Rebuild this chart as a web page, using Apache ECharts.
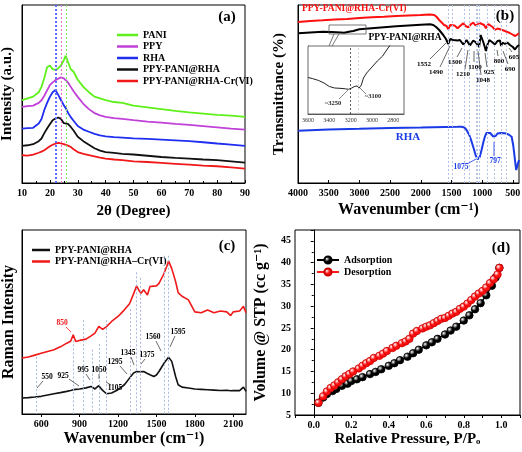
<!DOCTYPE html>
<html><head><meta charset="utf-8">
<script src="https://cdn.jsdelivr.net/npm/echarts@6/dist/echarts.min.js"></script>
<style>html,body{margin:0;padding:0;background:#fff}#c{width:522px;height:452px}</style>
</head><body><div id="c"></div>
<script>
// ---------- (a) XRD ----------
const xrdTheta = [10,12,14,16,17,18,19,20,21,22,23,24,25,25.7,26.5,27.5,28.5,30,32,34,36,38,40,43,46,50,55,60,65,70,75,80,85,90];
const xrdPANI  = [46.5,47.5,48.5,51,54,59,65,66,64,63.5,64.5,66,69,71.5,68,64,62.5,58,54,51,48.5,47.5,46.5,45.5,45,43.5,42.5,41.5,40.5,39.7,39,38.3,37.8,37.2];
const xrdPPY   = [42.8,43.2,43.5,45,46.5,49,52,55,56.5,57.8,58.6,59.3,58.8,58,56.5,54,51.5,48.4,44.5,41.5,39.3,38,37.2,36.5,36,35.3,34.5,33.9,33.2,32.6,32,31.3,30.6,30];
const xrdRHA   = [30.6,30.8,31,33.4,36,41,45,48.4,51,52.2,49.5,46.5,43.7,42,39.5,37,35,32,30,28.8,27.6,26.8,26.2,25.8,25.5,25.1,24.8,24.4,24,23.5,22.9,22.2,21.6,20.8];
const xrdComp  = [20.8,21.2,21.8,23.5,25,28,30.6,33,35.3,36.2,36.8,36,33.6,33.8,33.2,31.5,29.5,26,23.5,21.5,19.5,18.2,17.4,16.9,16.4,16,15.3,14.6,14.1,13.7,13.2,12.8,12.1,11.4];
const xrdCr    = [15.6,15.4,16,17,17.6,18.4,19.5,20.6,21.5,22.1,22.5,22.3,21.8,22,21,20.2,19,17.4,16.4,15.6,15,14.3,13.7,13.2,12.8,12.2,11.8,11.3,10.8,10.3,9.8,9.4,8.8,8.1];
const xrdNames = ['PANI','PPY','RHA','PPY-PANI@RHA','PPY-PANI@RHA-Cr(VI)'];
const xrdRefLines = [21.8,22.3,24.2,25.8];
const xrdXTicks = [10,90,10];

// ---------- (b) FTIR ----------
const ftCrX = [4000,3800,3600,3400,3200,3000,2800,2600,2400,2200,2000,1850,1780,1740,1700,1660,1620,1580,1552,1520,1490,1450,1400,1360,1308,1270,1226,1180,1145,1110,1080,1040,1009,970,938,900,873,830,792,750,710,650,601,550,493,460,428,400];
const ftCrY = [161,162,162.7,163.5,164,165,165.7,166.3,167,167.5,168,168.5,168,166,163,160.5,158,157,153.7,158,156.5,157.5,154.7,157,159.7,157,155.7,159,160.3,157.5,155.7,160,161.3,158,154.7,159,160.3,156,153,154.5,153.7,152.5,151.3,150,148,147,146.3,149.7];
const ftPPX = [4000,3800,3600,3450,3300,3250,3150,3100,3000,2800,2600,2400,2200,2000,1850,1796,1750,1700,1634,1590,1552,1520,1497,1470,1443,1400,1362,1308,1254,1199,1145,1110,1080,1050,1025,982,938,910,884,840,792,750,710,690,670,629,590,547,500,466,430,400];
const ftPPY = [149.7,150.5,151.3,151,150.5,150.3,151.5,152,153.7,154.7,155.7,156.7,157.5,158.3,158.7,158,156,153,148,144,139,144,144.7,143,141,142.5,143,138.5,143,137.5,142.5,141,139.5,136,148,141,132,139,143,141,138.5,142,142.5,137,140.5,139,140.5,138,136,133.5,136.5,138];
const ftRhaX = [4000,3500,3000,2500,2000,1600,1400,1334,1290,1254,1210,1172,1140,1107,1075,1040,1010,980,956,930,901,870,846,820,803,780,750,700,629,570,520,495,478,460,445,430,415,400];
const ftRhaY = [52.3,53.5,54.2,55,55.5,56,56.2,56.3,55.5,53,48,41.3,35,28,23.7,26,33,41,46.3,50,50.3,50,49,46.5,44.7,47,49.5,50,49.7,48.5,46.3,38,29.7,20,13,14,20,23];
const ftPeakLines = [1552,1490,1300,1210,1100,1075,1048,925,800,797,690,605];
const ftXLabels = [500,1000,1500,2000,2500,3000,3500,4000];
// inset
const inX = [3600,3560,3500,3450,3400,3350,3300,3250,3220,3190,3160,3140,3120,3100,3080,3050,3000,2950,2900,2850,2820];
const inY = [36.5,35.5,33.5,31,27.5,26,25.7,25.2,24.7,26,27.7,28,26,29,36,41,47,53,58,66,70];
const inXLabels = [2800,3000,3200,3400,3600];

// ---------- (c) Raman ----------
const ramX = [450,500,550,600,650,700,750,800,830,850,870,900,950,990,1020,1050,1080,1110,1150,1200,1250,1290,1320,1345,1365,1380,1400,1415,1430,1450,1480,1500,1520,1550,1560,1580,1595,1620,1650,1670,1700,1750,1800,1850,1900,1950,2000,2050,2080,2100,2150,2180,2200];
const ramCr = [30.4,31,32,33,34,34.9,36.5,38.5,39.5,43,39.4,40,40.7,42.5,44,47.6,46,47.5,50.3,53,56.6,59.9,65,69.6,67,65.6,67.5,68.4,64.7,69.3,69.5,69.6,71,75,76.5,80,83.2,79,72,66,64,62,55.5,55,56.5,55,56,55.5,53.5,55.5,56,58.5,55];
const ramPP = [8.7,8.9,9.2,9.6,10.3,11,11.6,12.3,12.8,13.2,13.4,13.6,14.2,15,13.6,15.4,12.8,11,11.4,13.2,15.9,19.5,22.2,23.1,23,23.3,23.1,22.8,22,21.3,20.4,21.2,23.1,26.5,27.7,29.5,30.9,28.6,20.4,15.9,14.6,14.1,13.6,13.4,13.2,13,12.8,12.9,12.6,12.8,12.7,14.6,12.3];
const ramNames = ['PPY-PANI@RHA ','PPY-PANI@RHA\u2013Cr(VI)'];
const ramPeakLines = [560,850,925,995,1050,1105,1295,1345,1375,1560,1595];
const ramPeakTops  = [31,40,51,35,38,51,57,77,74,86,86];
const ramXLabels = [600,900,1200,1500,1800,2100];

// ---------- (d) BET ----------
const adsP = [0.025,0.05,0.07,0.1,0.12,0.15,0.18,0.2,0.23,0.26,0.3,0.33,0.36,0.4,0.43,0.46,0.5,0.53,0.56,0.6,0.63,0.66,0.7,0.73,0.76,0.8,0.83,0.86,0.89,0.92,0.95,0.97,0.99];
const adsV = [7.8,9.0,9.8,10.5,11.0,11.7,12.2,12.8,13.2,13.7,14.4,14.9,15.5,16.3,16.9,17.6,18.4,19.2,20.0,21.0,21.7,22.5,23.5,24.4,25.3,26.7,27.9,29.3,30.7,32.5,34.7,36.6,38.8];
const desP = [0.025,0.05,0.07,0.09,0.11,0.13,0.15,0.17,0.19,0.21,0.24,0.26,0.28,0.3,0.32,0.35,0.37,0.39,0.42,0.44,0.47,0.49,0.51,0.53,0.55,0.58,0.6,0.62,0.64,0.66,0.68,0.7,0.72,0.74,0.76,0.78,0.8,0.82,0.84,0.86,0.88,0.9,0.92,0.94,0.96,0.98,0.99];
const desV = [7.8,9.3,10.4,11.2,11.8,12.5,13.2,13.9,14.4,15.0,15.7,16.3,16.9,17.4,18.1,18.6,19.1,19.7,20.4,20.9,21.5,21.9,22.5,23.7,24.3,24.9,25.3,25.6,26.1,26.6,27.1,27.3,27.8,28.3,28.7,29.4,29.9,30.6,31.4,32.2,32.9,33.5,34.3,35.3,36.2,37.3,38.8];
const betXLabels = [0,0.2,0.4,0.6,0.8,1.0];
const betXTicks = [-0.1,0,0.1,0.2,0.3,0.4,0.5,0.6,0.7,0.8,0.9,1.0,1.1];

// ================= build =================
const F = '"Liberation Serif","DejaVu Serif",serif';
const pairs = (xs, ys) => xs.map((x, i) => [x, ys[i]]);
const plain = v => String(v);
const lab = {fontFamily: F, fontWeight: 'bold', fontSize: 10, color: '#000', margin: 5, formatter: plain};
const ttl = {fontFamily: F, fontWeight: 'bold', fontSize: 15, color: '#000'};
const axLine = {show: true, lineStyle: {color: '#000', width: 1}};
const gridBase = {show: true, borderColor: '#000', borderWidth: 1, containLabel: false, outerBoundsMode: 'none'};

const chart = echarts.init(document.getElementById('c'));

const xrdColors = ['#5ef01a', '#c040d8', '#1f2ef0', '#111111', '#f01818'];
const xrdRefColors = ['#5f6cff', '#5f6cff', '#e070d0', '#80e060'];

const series = [];
[xrdPANI, xrdPPY, xrdRHA, xrdComp, xrdCr].forEach((arr, i) => {
  const s = {name: xrdNames[i], type: 'line', xAxisIndex: 0, yAxisIndex: 0, symbol: 'none',
    data: pairs(xrdTheta, arr), lineStyle: {color: xrdColors[i], width: 1.8}, itemStyle: {color: xrdColors[i]}, z: 3};
  if (i === 0) s.markLine = {silent: true, symbol: 'none', label: {show: false},
    lineStyle: {type: [2, 2], width: 1},
    data: xrdRefLines.map((v, k) => ({xAxis: v, lineStyle: {color: xrdRefColors[k], type: [2, 2], width: 1}}))};
  series.push(s);
});
series.push({name: 'ftir-cr', type: 'line', xAxisIndex: 1, yAxisIndex: 1, symbol: 'none',
  data: pairs(ftCrX, ftCrY), lineStyle: {color: '#ff1010', width: 2}, z: 3,
  markLine: {silent: true, symbol: 'none', label: {show: false},
    lineStyle: {color: '#b4c2e4', type: [2, 2], width: 1},
    data: ftPeakLines.map(v => ({xAxis: v}))}});
series.push({name: 'ftir-pp', type: 'line', xAxisIndex: 1, yAxisIndex: 1, symbol: 'none',
  data: pairs(ftPPX, ftPPY), lineStyle: {color: '#000', width: 2}, z: 3});
series.push({name: 'ftir-rha', type: 'line', xAxisIndex: 1, yAxisIndex: 1, symbol: 'none',
  data: pairs(ftRhaX, ftRhaY), lineStyle: {color: '#1a3ae6', width: 2}, z: 3});
series.push({name: 'inset', type: 'line', xAxisIndex: 2, yAxisIndex: 2, symbol: 'none', clip: true,
  data: pairs(inX, inY), lineStyle: {color: '#222', width: 1}, z: 5,
  markLine: {silent: true, symbol: 'none', label: {show: false},
    data: [{xAxis: 3200, lineStyle: {color: '#333', type: [2, 2], width: 0.8}},
           {xAxis: 3130, lineStyle: {color: '#ccc', type: [2, 2], width: 0.8}}]}});
series.push({name: ramNames[0], type: 'line', xAxisIndex: 3, yAxisIndex: 3, symbol: 'none',
  data: pairs(ramX, ramPP), lineStyle: {color: '#111', width: 1.6}, itemStyle: {color: '#111'}, z: 3,
  markLine: {silent: true, symbol: 'none', label: {show: false},
    lineStyle: {color: '#a9b8dc', type: [2, 2], width: 1},
    data: ramPeakLines.map((v, k) => [{coord: [v, ramPeakTops[k]]}, {coord: [v, 0]}])}});
series.push({name: ramNames[1], type: 'line', xAxisIndex: 3, yAxisIndex: 3, symbol: 'none',
  data: pairs(ramX, ramCr), lineStyle: {color: '#f01818', width: 1.6}, itemStyle: {color: '#f01818'}, z: 3});
const ball = (c) => ({type: 'radial', x: 0.35, y: 0.35, r: 0.75,
  colorStops: [{offset: 0, color: '#ffffff'}, {offset: 0.45, color: c}, {offset: 1, color: c}]});
series.push({name: 'Adsorption', type: 'line', xAxisIndex: 4, yAxisIndex: 4, symbol: 'circle', symbolSize: 7.5,
  data: pairs(adsP, adsV), lineStyle: {color: '#000', width: 1.5},
  itemStyle: {color: ball('#000'), borderColor: '#000', borderWidth: 0.8}, z: 3});
series.push({name: 'Desorption', type: 'line', xAxisIndex: 4, yAxisIndex: 4, symbol: 'circle', symbolSize: 7.5,
  data: pairs(desP, desV), lineStyle: {color: '#ff1a1a', width: 1.5},
  itemStyle: {color: ball('#ff1010'), borderColor: '#c00', borderWidth: 0.8}, z: 4});

const noAx = {axisLabel: {show: false}, axisTick: {show: false}, splitLine: {show: false}, axisLine: axLine};
const legText = {fontFamily: F, fontWeight: 'bold', fontSize: 10, color: '#000'};

const option = {
  animation: false,
  backgroundColor: '#fff',
  grid: [
    Object.assign({left: 22, top: 5, width: 223, height: 178}, gridBase),
    Object.assign({left: 298, top: 5, width: 221, height: 178}, gridBase),
    Object.assign({}, gridBase, {left: 308, top: 46, width: 96, height: 68, backgroundColor: '#fff', z: 4, borderColor: '#444', borderWidth: 0.8}),
    Object.assign({left: 22, top: 230, width: 224, height: 184}, gridBase),
    Object.assign({left: 295, top: 230, width: 225, height: 185}, gridBase)
  ],
  xAxis: [
    {gridIndex: 0, type: 'value', min: xrdXTicks[0], max: xrdXTicks[1], interval: xrdXTicks[2],
      axisLine: axLine, axisTick: {inside: true, length: 3, lineStyle: {color: '#000'}},
      minorTick: {show: true, splitNumber: 2, length: 2, lineStyle: {color: '#000'}},
      splitLine: {show: false}, axisLabel: lab,
      name: '2\u03b8 (Degree)', nameLocation: 'middle', nameGap: 21, nameTextStyle: ttl},
    {gridIndex: 1, type: 'value', min: 400, max: 4000, inverse: true,
      axisLine: axLine, axisTick: {inside: true, length: 3, customValues: ftXLabels, lineStyle: {color: '#000'}},
      splitLine: {show: false}, axisLabel: Object.assign({customValues: ftXLabels}, lab),
      name: 'Wavenumber (cm\u207b\u00b9)', nameLocation: 'middle', nameGap: 19, nameTextStyle: Object.assign({}, ttl, {fontSize: 16})},
    {gridIndex: 2, type: 'value', min: 2700, max: 3600, inverse: true,
      axisLine: {show: true, lineStyle: {color: '#444', width: 0.8}},
      axisTick: {inside: true, length: 2, customValues: inXLabels, lineStyle: {color: '#444'}},
      splitLine: {show: false},
      axisLabel: {customValues: inXLabels, formatter: plain, fontFamily: F, fontSize: 6, color: '#333', margin: 3}},
    {gridIndex: 3, type: 'value', min: 450, max: 2200,
      axisLine: axLine, axisTick: {inside: false, length: 3, customValues: ramXLabels, lineStyle: {color: '#000'}},
      splitLine: {show: false}, axisLabel: Object.assign({customValues: ramXLabels}, lab),
      name: 'Wavenumber (cm\u207b\u00b9)', nameLocation: 'middle', nameGap: 17, nameTextStyle: Object.assign({}, ttl, {fontSize: 16})},
    {gridIndex: 4, type: 'value', min: -0.1, max: 1.1,
      axisLine: axLine, axisTick: {inside: false, length: 3, customValues: betXTicks, lineStyle: {color: '#000'}},
      splitLine: {show: false},
      axisLabel: Object.assign({}, lab, {customValues: betXLabels, formatter: v => Number(v).toFixed(1)}),
      name: 'Relative Pressure, P/P\u2092', nameLocation: 'middle', nameGap: 17, nameTextStyle: ttl}
  ],
  yAxis: [
    Object.assign({gridIndex: 0, type: 'value', min: 0, max: 100,
      name: 'Intensity (a.u.)', nameLocation: 'middle', nameGap: 7, nameTextStyle: ttl}, noAx),
    Object.assign({gridIndex: 1, type: 'value', min: 0, max: 178,
      name: 'Transmittance (%)', nameLocation: 'middle', nameGap: 11, nameTextStyle: ttl}, noAx),
    {gridIndex: 2, type: 'value', min: 0, max: 68, axisLabel: {show: false}, axisTick: {show: false},
      splitLine: {show: false}, axisLine: {show: true, lineStyle: {color: '#444', width: 0.8}}},
    Object.assign({gridIndex: 3, type: 'value', min: 0, max: 100,
      name: 'Raman Intensity', nameLocation: 'middle', nameGap: 5, nameTextStyle: Object.assign({}, ttl, {fontSize: 16})}, noAx),
    {gridIndex: 4, type: 'value', min: 5, max: 47.5, interval: 5,
      axisLine: axLine, axisTick: {length: 3, lineStyle: {color: '#000'}},
      minorTick: {show: true, splitNumber: 2, length: 2, lineStyle: {color: '#000'}},
      splitLine: {show: false}, axisLabel: Object.assign({}, lab, {margin: 4, showMaxLabel: false}),
      name: 'Volume @ STP (cc g\u207b\u00b9)', nameLocation: 'middle', nameGap: 26, nameTextStyle: Object.assign({}, ttl, {fontSize: 16})}
  ],
  legend: [
    {data: xrdNames, orient: 'vertical', left: 112, top: 25, icon: 'rect', itemWidth: 21, itemHeight: 2.5, itemGap: 1.5,
      selectedMode: false, textStyle: legText},
    {data: ramNames, orient: 'vertical', left: 27, top: 240, icon: 'rect', itemWidth: 18, itemHeight: 2.5, itemGap: 1.5,
      selectedMode: false, textStyle: legText},
    {data: ['Adsorption', 'Desorption'], orient: 'vertical', left: 311, top: 250, itemWidth: 22, itemHeight: 9, itemGap: 2,
      selectedMode: false, textStyle: legText}
  ],
  series: series,
  graphic: []
};

// ---- annotation texts (labels of the figure) ----
const G = option.graphic;
const txt = (t, x, y, size, color, align) => G.push({type: 'text', x: x, y: y, z: 20,
  style: {text: t, font: 'bold ' + size + 'px ' + F, fill: color || '#000', align: align || 'center', verticalAlign: 'middle'}});
const ln = (x1, y1, x2, y2, color, w) => G.push({type: 'line', z: 20,
  shape: {x1: x1, y1: y1, x2: x2, y2: y2}, style: {stroke: color || '#555', lineWidth: w || 0.8}});

txt('(a)', 227, 17, 15);
txt('(b)', 505, 16, 15);
txt('(c)', 227, 246, 15);
txt('(d)', 501, 248, 15);

txt('PPY-PANI@RHA-Cr(VI)', 302, 9, 9.5, '#ff1010', 'left');
txt('PPY-PANI@RHA', 405, 38, 9.5, '#000');
txt('RHA', 408, 137, 11, '#1a3ae6');

const bAnn = [
  ['1552', 424, 64, 430, 59, 446, 43], ['1490', 436, 72, 440, 67, 450, 46],
  ['1300', 455, 62, 457, 57, 462, 48], ['1210', 463, 74, 465, 69, 468, 50],
  ['1100', 475, 67, 474, 62, 474, 51], ['1048', 483, 80, 481, 75, 478, 51],
  ['925', 489, 72, 487, 67, 485, 53], ['800', 499, 61, 498, 56, 497, 50],
  ['690', 510, 69, 508, 64, 503, 51], ['605', 514, 57, 512, 52, 509, 48]
];
bAnn.forEach(a => { txt(a[0], a[1], a[2], 7); ln(a[3], a[4], a[5], a[6], '#444'); });
txt('1075', 461, 167, 7.5, '#1a3ae6'); ln(467, 164, 476, 159, '#1a3ae6');
txt('797', 495, 161, 7.5, '#1a3ae6'); ln(494, 156, 494, 142, '#1a3ae6');

// inset callout
G.push({type: 'rect', z: 20, shape: {x: 329, y: 25, width: 37, height: 9}, style: {fill: 'none', stroke: '#555', lineWidth: 0.8}});
G.push({type: 'polyline', z: 20, shape: {points: [[334, 34], [329, 46]]}, style: {stroke: '#555', lineWidth: 0.8, fill: 'none'}});
G.push({type: 'polyline', z: 20, shape: {points: [[339, 34], [332, 46]]}, style: {stroke: '#555', lineWidth: 0.8, fill: 'none'}});
txt('~3250', 333, 103, 6.5, '#222'); ln(339, 99, 348, 90, '#333', 0.6);
txt('~3100', 373, 96, 6.5, '#222'); ln(366, 94, 360, 88, '#333', 0.6);

const cAnn = [
  ['550', 47, 377, 43, 381, 37, 388], ['925', 63, 376, 69, 379, 79, 386],
  ['995', 83, 370, 86, 374, 90, 380], ['1050', 99, 370, 99, 374, 99, 379],
  ['1105', 115, 388, 111, 385, 106, 382], ['1295', 115, 362, 120, 366, 127, 374],
  ['1345', 128, 353, 131, 357, 134, 365], ['1375', 147, 355, 145, 359, 141, 364],
  ['1560', 153, 337, 156, 341, 161, 351], ['1595', 178, 332, 175, 336, 170, 347]
];
cAnn.forEach(a => { txt(a[0], a[1], a[2], 7.5); ln(a[3], a[4], a[5], a[6], '#444'); });
txt('850', 62, 323, 7.5, '#f01818'); ln(66, 327, 71, 332, '#f01818');

chart.setOption(option);
</script>
</body></html>
